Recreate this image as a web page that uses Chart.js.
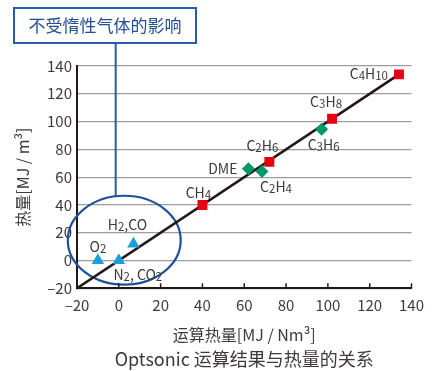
<!DOCTYPE html>
<html>
<head>
<meta charset="utf-8">
<script src="https://cdn.jsdelivr.net/npm/chart.js@4.4.1/dist/chart.umd.min.js"></script>
<style>
html, body { margin: 0; padding: 0; background: #fff; }
</style>
</head>
<body>
<canvas id="grafico" width="432" height="371"></canvas>
<script>
// Datos
const ticks = [-20, 0, 20, 40, 60, 80, 100, 120, 140];

const rojoNombres = ['CH4', 'C2H6', 'C3H8', 'C4H10'];
const rojoX = [40, 72, 102, 134];
const rojoY = [40, 71, 102, 134];

const verdeNombres = ['DME', 'C2H4', 'C3H6'];
const verdeX = [62, 68.5, 97];
const verdeY = [66, 64, 94.5];

const azulNombres = ['O2', 'N2, CO2', 'H2,CO'];
const azulX = [-10, 0, 7];
const azulY = [0, 0, 12];

const rectaX = [-20, 134];
const rectaY = [-20, 134];

const FUENTE = '"Noto Sans CJK SC", "Noto Sans", sans-serif';
const TEXTO = '#3e3a39';
const AZUL_OSCURO = '#1f4f9c';

// Posición de cada etiqueta respecto a su punto (px): dx, dy, alineación
const colocacion = {
    'CH4': [-4, -12, 'center'],
    'C2H6': [-7, -16, 'center'],
    'C3H8': [-6, -17, 'center'],
    'C4H10': [-11, 0, 'right'],
    'DME': [-11, 0, 'right'],
    'C2H4': [14, 15, 'center'],
    'C3H6': [2, 16, 'center'],
    'O2': [0, -14, 'center'],
    'N2, CO2': [19, 14, 'center'],
    'H2,CO': [-6, -19, 'center']
};

const puntos = (xs, ys) => xs.map((x, i) => ({ x: x, y: ys[i] }));

// Texto con subíndices para fórmulas químicas
function dibujarFormula(ctx, texto, x, y, align) {
    const partes = texto.split(/(\d+)/).filter(p => p !== '');
    const fNormal = '14px ' + FUENTE;
    const fSub = '11.5px ' + FUENTE;
    let ancho = 0;
    partes.forEach(p => {
        ctx.font = /^\d+$/.test(p) ? fSub : fNormal;
        ancho += ctx.measureText(p).width;
    });
    let cx = align === 'right' ? x - ancho : (align === 'center' ? x - ancho / 2 : x);
    const base = y + 5;
    ctx.textAlign = 'left';
    ctx.textBaseline = 'alphabetic';
    ctx.fillStyle = TEXTO;
    partes.forEach(p => {
        const sub = /^\d+$/.test(p);
        ctx.font = sub ? fSub : fNormal;
        ctx.fillText(p, cx, sub ? base + 1 : base);
        cx += ctx.measureText(p).width;
    });
}

const pluginEtiquetas = {
    id: 'etiquetas',
    beforeDatasetsDraw(chart) {
        const { ctx, scales: { x, y } } = chart;
        // Elipse de gases inertes
        const cx = x.getPixelForValue(2.6), cy = y.getPixelForValue(14.6);
        const rx = x.getPixelForValue(2.6 + 27) - cx;
        const ry = cy - y.getPixelForValue(14.6 + 32);
        ctx.save();
        ctx.strokeStyle = AZUL_OSCURO;
        ctx.lineWidth = 2.2;
        ctx.beginPath();
        ctx.ellipse(cx, cy, rx, ry, 0, 0, Math.PI * 2);
        ctx.stroke();

        // Línea vertical hacia el recuadro
        const lx = x.getPixelForValue(-1.5);
        const ly = cy - ry * Math.sqrt(1 - Math.pow((lx - cx) / rx, 2));
        ctx.strokeStyle = '#2a5ba8';
        ctx.lineWidth = 2;
        ctx.beginPath();
        ctx.moveTo(lx, 43);
        ctx.lineTo(lx, ly);
        ctx.stroke();

        // Recuadro
        ctx.strokeRect(14, 8, 182, 35);
        ctx.fillStyle = '#24508f';
        ctx.font = '17px ' + FUENTE;
        ctx.textAlign = 'center';
        ctx.textBaseline = 'middle';
        ctx.fillText('不受惰性气体的影响', 105, 26);

        // Marcas internas del eje X
        ctx.strokeStyle = '#231815';
        ctx.lineWidth = 1.5;
        ticks.forEach(t => {
            const px = x.getPixelForValue(t);
            ctx.beginPath();
            ctx.moveTo(px, y.bottom);
            ctx.lineTo(px, y.bottom - 5);
            ctx.stroke();
        });
        ctx.restore();
    },
    afterDatasetsDraw(chart) {
        const { ctx } = chart;
        ctx.save();
        chart.data.datasets.forEach((ds, i) => {
            if (!ds.nombres) return;
            const meta = chart.getDatasetMeta(i);
            meta.data.forEach((el, j) => {
                const nombre = ds.nombres[j];
                const [dx, dy, align] = colocacion[nombre];
                dibujarFormula(ctx, nombre, el.x + dx, el.y + dy, align);
            });
        });
        // Pie de figura
        ctx.fillStyle = TEXTO;
        ctx.font = '18px ' + FUENTE;
        ctx.textAlign = 'center';
        ctx.textBaseline = 'middle';
        ctx.fillText('Optsonic 运算结果与热量的关系', (chart.chartArea.left + chart.chartArea.right) / 2, 359);
        ctx.restore();
    }
};

const ctxG = document.getElementById('grafico');

new Chart(ctxG, {
    type: 'scatter',
    data: {
        datasets: [
            {
                nombres: rojoNombres,
                data: puntos(rojoX, rojoY),
                pointStyle: 'rect',
                pointRadius: 7,
                backgroundColor: '#e60012',
                borderWidth: 0
            },
            {
                nombres: verdeNombres,
                data: puntos(verdeX, verdeY),
                pointStyle: 'rectRot',
                pointRadius: 6.5,
                backgroundColor: '#00976b',
                borderWidth: 0
            },
            {
                nombres: azulNombres,
                data: puntos(azulX, azulY),
                pointStyle: 'triangle',
                pointRadius: 7.2,
                backgroundColor: '#1a9fdc',
                borderWidth: 0
            },
            {
                type: 'line',
                data: puntos(rectaX, rectaY),
                borderColor: '#231815',
                borderWidth: 2.5,
                pointRadius: 0,
                showLine: true
            }
        ]
    },
    options: {
        responsive: false,
        animation: false,
        devicePixelRatio: 1,
        layout: { padding: { top: 66, right: 14, left: 0, bottom: 24 } },
        plugins: {
            legend: { display: false },
            tooltip: { enabled: false }
        },
        scales: {
            x: {
                type: 'linear',
                min: -20,
                max: 140,
                afterFit(scale) { scale.height = 58.7; },
                afterBuildTicks(scale) { scale.ticks = ticks.map(v => ({ value: v })); },
                grid: { display: false, drawTicks: false },
                border: { display: true, color: '#231815', width: 2 },
                ticks: {
                    padding: 8,
                    color: TEXTO,
                    font: { family: FUENTE, size: 15 },
                    maxRotation: 0,
                    callback: v => v < 0 ? '–' + Math.abs(v) : v
                },
                title: {
                    display: true,
                    text: '运算热量[MJ / Nm³]',
                    color: TEXTO,
                    font: { family: FUENTE, size: 16 },
                    padding: { top: 0, bottom: 2.4 }
                }
            },
            y: {
                type: 'linear',
                min: -20,
                max: 140,
                afterFit(scale) { scale.width = 77; },
                afterBuildTicks(scale) { scale.ticks = ticks.map(v => ({ value: v })); },
                grid: { color: '#9d9d9d', lineWidth: 1.3, drawTicks: false },
                border: { display: true, color: '#231815', width: 2 },
                ticks: {
                    padding: 5,
                    color: TEXTO,
                    font: { family: FUENTE, size: 15 },
                    callback: v => v < 0 ? '–' + Math.abs(v) : v
                },
                title: {
                    display: true,
                    text: '热量[MJ / m³]',
                    color: TEXTO,
                    font: { family: FUENTE, size: 16 },
                    padding: { top: 13.4, bottom: 0 }
                }
            }
        }
    },
    plugins: [pluginEtiquetas]
});
</script>
</body>
</html>
